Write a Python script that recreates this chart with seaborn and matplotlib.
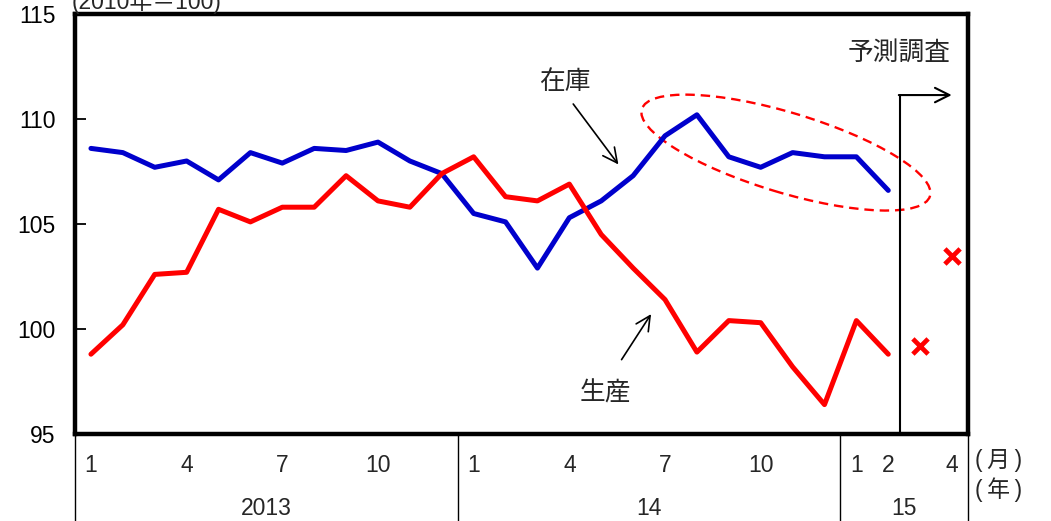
import numpy as np
import pandas as pd
import matplotlib
matplotlib.use("Agg")
import matplotlib.pyplot as plt
import matplotlib.transforms as mtransforms
from matplotlib.patches import Ellipse
import seaborn as sns

# ---- data ----
months = ["2013-01", "2013-02", "2013-03", "2013-04", "2013-05", "2013-06",
          "2013-07", "2013-08", "2013-09", "2013-10", "2013-11", "2013-12",
          "2014-01", "2014-02", "2014-03", "2014-04", "2014-05", "2014-06",
          "2014-07", "2014-08", "2014-09", "2014-10", "2014-11", "2014-12",
          "2015-01", "2015-02", "2015-03", "2015-04"]
inventory = [108.6, 108.4, 107.7, 108.0, 107.1, 108.4, 107.9, 108.6, 108.5, 108.9,
             108.0, 107.4, 105.5, 105.1, 102.9, 105.3, 106.1, 107.3, 109.2, 110.2,
             108.2, 107.7, 108.4, 108.2, 108.2, 106.6]
production = [98.8, 100.2, 102.6, 102.7, 105.7, 105.1, 105.8, 105.8, 107.3, 106.1,
              105.8, 107.4, 108.2, 106.3, 106.1, 106.9, 104.5, 102.9, 101.4, 98.9,
              100.4, 100.3, 98.2, 96.4, 100.4, 98.8]
forecast_production = [99.2, 103.5]          # 2015-03, 2015-04 (予測調査)
month_tick_labels = ["1", "4", "7", "10", "1", "4", "7", "10", "1", "2", "4"]
month_tick_pos = [0, 3, 6, 9, 12, 15, 18, 21, 24, 25, 27]
year_labels = ["2013", "14", "15"]
year_ranges = [(0, 11), (12, 23), (24, 27)]
yticks = [95, 100, 105, 110, 115]

# ---- frames ----
n_act = len(inventory)
df = pd.concat([
    pd.DataFrame({"idx": np.arange(n_act), "value": inventory, "series": "在庫"}),
    pd.DataFrame({"idx": np.arange(n_act), "value": production, "series": "生産"}),
])
df_fc = pd.DataFrame({"idx": np.arange(n_act, n_act + len(forecast_production)),
                      "value": forecast_production})

sns.set_theme(style="white")
plt.rcParams["font.family"] = ["Liberation Sans", "Noto Sans CJK JP", "DejaVu Sans"]
plt.rcParams["axes.unicode_minus"] = False

fig = plt.figure(figsize=(10.51, 5.21), dpi=100)
ax = fig.add_axes([75 / 1051, 1 - 434 / 521, (968 - 75) / 1051, (434 - 14) / 521])

sns.lineplot(data=df, x="idx", y="value", hue="series",
             palette={"在庫": "#0000CC", "生産": "#FF0000"},
             linewidth=3.6, ax=ax, legend=False, sort=False)
sns.scatterplot(data=df_fc, x="idx", y="value", marker="x", color="#FF0000",
                s=120, linewidth=3.4, ax=ax, legend=False, zorder=5)

ax.set_xlim(-0.5, len(months) - 0.5)
ax.set_ylim(95, 115)
ax.set_yticks(yticks)
ax.set_yticklabels([str(v) for v in yticks], fontsize=16.5)
ax.tick_params(axis="y", direction="in", length=8, width=1.3, pad=14, colors="black", left=True)
ax.set_xticks([])
ax.set_xlabel("")
ax.set_ylabel("")
for s in ax.spines.values():
    s.set_visible(True)
    s.set_color("black")
    s.set_linewidth(3.2)
ax.grid(False)

# ---- x-axis category labels ----
btrans = mtransforms.blended_transform_factory(ax.transData, ax.transAxes)
for pos, lab in zip(month_tick_pos, month_tick_labels):
    ax.text(pos, -0.076, lab, transform=btrans, ha="center", va="center", fontsize=16.5)
for lab, (a, b) in zip(year_labels, year_ranges):
    ax.text((a + b) / 2, -0.178, lab, transform=btrans, ha="center", va="center", fontsize=16.5)
for xb in [-0.5, 11.5, 23.5, 27.5]:
    ax.plot([xb, xb], [0, -0.21], transform=btrans, color="black", lw=1.0,
            clip_on=False)
ax.text(1.008, -0.064, "(\u2009月\u2009)", transform=ax.transAxes, ha="left", va="center", fontsize=16.5)
ax.text(1.008, -0.133, "(\u2009年\u2009)", transform=ax.transAxes, ha="left", va="center", fontsize=16.5)

# unit label (cropped at top, as in the source)
fig.text(72 / 1051, 1 - 9 / 521, "(2010年＝100)", ha="left", va="baseline", fontsize=16.5)

# ---- annotations ----
ax.text(14.86, 111.78, "在庫", ha="center", va="center", fontsize=18.5)
ax.annotate("", xy=(16.59, 107.73), xytext=(15.07, 110.82),
            arrowprops=dict(arrowstyle="->", color="black", lw=1.2, mutation_scale=26))
ax.text(16.12, 96.95, "生産", ha="center", va="center", fontsize=18.5)
ax.annotate("", xy=(17.61, 100.82), xytext=(16.59, 98.43),
            arrowprops=dict(arrowstyle="->", color="black", lw=1.2, mutation_scale=26))

ax.text(26.97, 113.16, "予測調査", ha="right", va="center", fontsize=18.5)
ax.plot([25.37, 25.37], [95, 111.14], color="black", lw=1.5, clip_on=False)
ax.annotate("", xy=(26.99, 111.14), xytext=(25.33, 111.14),
            arrowprops=dict(arrowstyle="->", color="black", lw=1.5, mutation_scale=26,
                            shrinkA=0, shrinkB=0))

# dashed ellipse highlighting the inventory rise
etrans = fig.dpi_scale_trans + mtransforms.ScaledTranslation(21.79, 108.40, ax.transData)
ell = Ellipse((0, 0), width=3.01, height=0.80, angle=-16.8, transform=etrans,
              fill=False, edgecolor="#FF0000", lw=1.7, ls=(0, (4, 2.5)))
ax.add_patch(ell)

fig.savefig("out.png", dpi=100)
